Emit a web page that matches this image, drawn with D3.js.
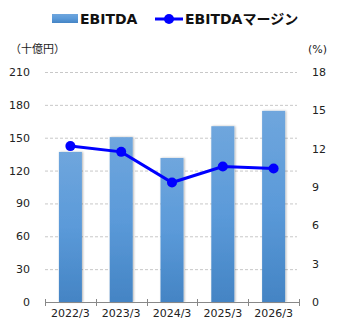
<!DOCTYPE html>
<html>
<head>
<meta charset="utf-8">
<script src="https://cdn.jsdelivr.net/npm/d3@7"></script>
<style>
  body { margin: 0; background: #fff; }
  svg { display: block; font-family: "DejaVu Sans", Verdana, sans-serif; }
</style>
</head>
<body>
<svg id="chart" width="345" height="330"></svg>
<script>
const categories = ['2022/3', '2023/3', '2024/3', '2025/3', '2026/3'];
const ebitda = [137, 150.5, 131.5, 160.5, 174.5];
const margin = [12.2, 11.75, 9.35, 10.6, 10.45];
const leftTicks = [0, 30, 60, 90, 120, 150, 180, 210];
const rightTicks = [0, 3, 6, 9, 12, 15, 18];

const svg = d3.select('#chart');
const plot = { left: 45, right: 299, top: 72, bottom: 302 };

const x = d3.scaleBand()
  .domain(categories)
  .range([plot.left, plot.right])
  .paddingInner(0)
  .paddingOuter(0);

const yL = d3.scaleLinear().domain([0, 210]).range([plot.bottom, plot.top]);
const yR = d3.scaleLinear().domain([0, 18]).range([plot.bottom, plot.top]);

const defs = svg.append('defs');
const grad = defs.append('linearGradient')
  .attr('id', 'barGrad')
  .attr('x1', 0).attr('y1', 0).attr('x2', 0).attr('y2', 1);
grad.append('stop').attr('offset', '0%').attr('stop-color', '#6fa6dd');
grad.append('stop').attr('offset', '50%').attr('stop-color', '#5b9ad9');
grad.append('stop').attr('offset', '100%').attr('stop-color', '#4484c4');

const shadow = defs.append('filter').attr('id', 'shadow')
  .attr('x', '-30%').attr('y', '-10%').attr('width', '160%').attr('height', '120%');
shadow.append('feDropShadow')
  .attr('dx', 1).attr('dy', 0).attr('stdDeviation', 1.2)
  .attr('flood-color', '#000').attr('flood-opacity', 0.3);

// grid
svg.append('g')
  .selectAll('line')
  .data(leftTicks.slice(1))
  .enter()
  .append('line')
  .attr('x1', plot.left)
  .attr('x2', plot.right - 2)
  .attr('y1', d => yL(d) + 0.5)
  .attr('y2', d => yL(d) + 0.5)
  .attr('stroke', '#c8c8c8')
  .attr('stroke-dasharray', '3,2')
  .attr('stroke-width', 1);

// left labels
svg.append('g')
  .selectAll('text')
  .data(leftTicks)
  .enter()
  .append('text')
  .attr('x', 30)
  .attr('y', d => yL(d) + 4)
  .attr('text-anchor', 'end')
  .attr('font-size', 11)
  .attr('fill', '#222')
  .text(d => d);

// right labels
svg.append('g')
  .selectAll('text')
  .data(rightTicks)
  .enter()
  .append('text')
  .attr('x', 312)
  .attr('y', d => yR(d) + 4)
  .attr('text-anchor', 'start')
  .attr('font-size', 11)
  .attr('fill', '#222')
  .text(d => d);

// bars
const barW = 23;
svg.append('g')
  .selectAll('rect')
  .data(ebitda)
  .enter()
  .append('rect')
  .attr('x', (d, i) => x(categories[i]) + x.bandwidth() / 2 - barW / 2)
  .attr('y', d => yL(d))
  .attr('width', barW)
  .attr('height', d => yL(0) - yL(d))
  .attr('fill', 'url(#barGrad)')
  .attr('filter', 'url(#shadow)');

// x axis
const xAxis = svg.append('g');
xAxis.append('line')
  .attr('x1', plot.left).attr('x2', plot.right)
  .attr('y1', plot.bottom + 0.5).attr('y2', plot.bottom + 0.5)
  .attr('stroke', '#888');
const bounds = categories.map(c => x(c)).concat([plot.right]);
xAxis.selectAll('.tk')
  .data(bounds)
  .enter()
  .append('line')
  .attr('x1', d => Math.round(d) + 0.5)
  .attr('x2', d => Math.round(d) + 0.5)
  .attr('y1', plot.bottom - 3)
  .attr('y2', plot.bottom + 4)
  .attr('stroke', '#888');
xAxis.selectAll('text')
  .data(categories)
  .enter()
  .append('text')
  .attr('x', d => x(d) + x.bandwidth() / 2)
  .attr('y', 317)
  .attr('text-anchor', 'middle')
  .attr('font-size', 11)
  .attr('fill', '#222')
  .text(d => d);

// line
const line = d3.line()
  .x((d, i) => x(categories[i]) + x.bandwidth() / 2)
  .y(d => yR(d));
svg.append('path')
  .datum(margin)
  .attr('d', line)
  .attr('fill', 'none')
  .attr('stroke', '#0000ff')
  .attr('stroke-width', 3);
svg.append('g')
  .selectAll('circle')
  .data(margin)
  .enter()
  .append('circle')
  .attr('cx', (d, i) => x(categories[i]) + x.bandwidth() / 2)
  .attr('cy', d => yR(d))
  .attr('r', 5)
  .attr('fill', '#0000ff');

// unit labels
svg.append('text')
  .attr('x', 10).attr('y', 53)
  .attr('font-size', 11).attr('fill', '#222')
  .attr('font-family', '"Noto Sans CJK JP", sans-serif')
  .text('（十億円）');
svg.append('text')
  .attr('x', 308).attr('y', 53)
  .attr('font-size', 11).attr('fill', '#222')
  .text('(%)');

// legend
const legend = svg.append('g');
legend.append('rect')
  .attr('x', 52).attr('y', 14)
  .attr('width', 26).attr('height', 9)
  .attr('fill', 'url(#barGrad)');
legend.append('text')
  .attr('x', 80).attr('y', 24)
  .attr('font-size', 14).attr('font-weight', 'bold').attr('fill', '#111')
  .text('EBITDA');
legend.append('line')
  .attr('x1', 155).attr('x2', 183)
  .attr('y1', 19).attr('y2', 19)
  .attr('stroke', '#0000ff').attr('stroke-width', 3);
legend.append('circle')
  .attr('cx', 169).attr('cy', 19).attr('r', 5)
  .attr('fill', '#0000ff');
legend.append('text')
  .attr('x', 185).attr('y', 24)
  .attr('font-size', 14).attr('font-weight', 'bold').attr('fill', '#111')
  .attr('font-family', '"DejaVu Sans", "Noto Sans CJK JP", sans-serif')
  .text('EBITDAマージン');
</script>
</body>
</html>
